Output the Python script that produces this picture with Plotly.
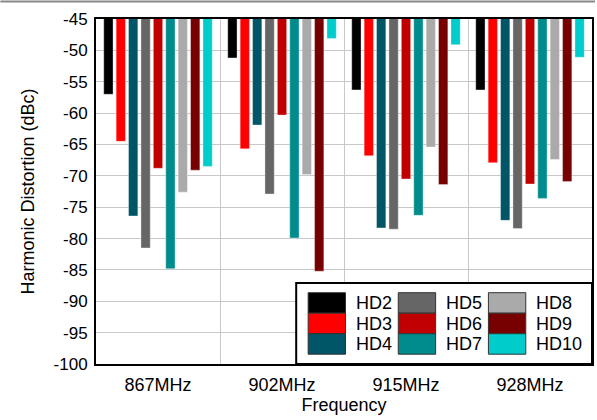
import plotly.graph_objects as go

categories = ["867MHz", "902MHz", "915MHz", "928MHz"]
series_names = ["HD2", "HD3", "HD4", "HD5", "HD6", "HD7", "HD8", "HD9", "HD10"]
HD2 = [-57.0, -51.2, -56.3, -56.3]
HD3 = [-64.5, -65.7, -66.8, -67.9]
HD4 = [-76.4, -61.9, -78.3, -77.1]
HD5 = [-81.5, -72.9, -78.5, -78.4]
HD6 = [-68.8, -60.3, -70.5, -71.3]
HD7 = [-84.8, -79.9, -76.3, -73.6]
HD8 = [-72.6, -69.8, -65.4, -67.4]
HD9 = [-69.1, -85.2, -71.4, -70.9]
HD10 = [-68.5, -48.1, -49.1, -51.1]
values = [HD2, HD3, HD4, HD5, HD6, HD7, HD8, HD9, HD10]
colors = ["#000000", "#FF0000", "#005566", "#666666", "#C00000",
          "#008C8C", "#AAAAAA", "#770000", "#00CCCC"]
y_ticks = list(range(-100, -44, 5))

FONT = "Liberation Sans, Arial, sans-serif"
W, H = 597, 420
L, R, T, B = 96, 3, 19, 56
PW, PH = W - L - R, H - T - B

fig = go.Figure()
for name, vals, col in zip(series_names, values, colors):
    fig.add_trace(go.Bar(
        x=categories, y=vals, name=name, marker_color=col,
        marker_line=dict(color="rgba(255,255,255,0.35)", width=1),
        showlegend=False,
    ))

def px(x):
    return (x - L) / PW

def py(y):
    return (H - B - y) / PH

shapes = []
annotations = []
# custom legend box
shapes.append(dict(type="rect", xref="paper", yref="paper",
                   x0=px(297), x1=px(594), y0=py(283), y1=py(364),
                   fillcolor="white", line=dict(color="black", width=2), layer="above"))
for i, (name, col) in enumerate(zip(series_names, colors)):
    c, r = divmod(i, 3)
    x0 = 309 + 90.5 * c
    y0 = 292.7 + 20.5 * r
    shapes.append(dict(type="rect", xref="paper", yref="paper",
                       x0=px(x0), x1=px(x0 + 37.5), y0=py(y0), y1=py(y0 + 20.5),
                       fillcolor=col, line=dict(color="#333333", width=1), layer="above"))
    annotations.append(dict(xref="paper", yref="paper", x=px(x0 + 46), y=py(y0 + 10.5),
                            text=name, showarrow=False, xanchor="left", yanchor="middle",
                            font=dict(family=FONT, size=18, color="black")))
# thin grey frame line at the very top of the figure
shapes.append(dict(type="line", xref="paper", yref="paper",
                   x0=px(0), x1=px(W), y0=py(1.5), y1=py(1.5),
                   line=dict(color="#888888", width=2)))

fig.update_layout(
    width=W, height=H,
    margin=dict(l=L, r=R, t=T, b=B),
    paper_bgcolor="white", plot_bgcolor="white",
    barmode="group", bargap=0.1, bargroupgap=0.25,
    font=dict(family=FONT, color="black"),
    shapes=shapes, annotations=annotations,
    xaxis=dict(
        type="category", range=[-0.5, 3.5], tickson="boundaries",
        showgrid=True, gridcolor="#C8C8C8", gridwidth=1,
        showline=True, linecolor="black", linewidth=2, mirror=True,
        ticks="", ticklabelstandoff=3, tickfont=dict(size=18, family=FONT),
        title=dict(text="Frequency", font=dict(size=18, family=FONT), standoff=2),
    ),
    yaxis=dict(
        range=[-100, -45], tickvals=y_ticks, ticktext=[str(v) for v in y_ticks],
        showgrid=True, gridcolor="#C8C8C8", gridwidth=1,
        showline=True, linecolor="black", linewidth=2, mirror=True,
        zeroline=False, ticks="", ticklabelstandoff=3, tickfont=dict(size=17, family=FONT),
        title=dict(text="Harmonic Distortion (dBc)", font=dict(size=18, family=FONT), standoff=14),
    ),
)

fig.write_html("out.html")
